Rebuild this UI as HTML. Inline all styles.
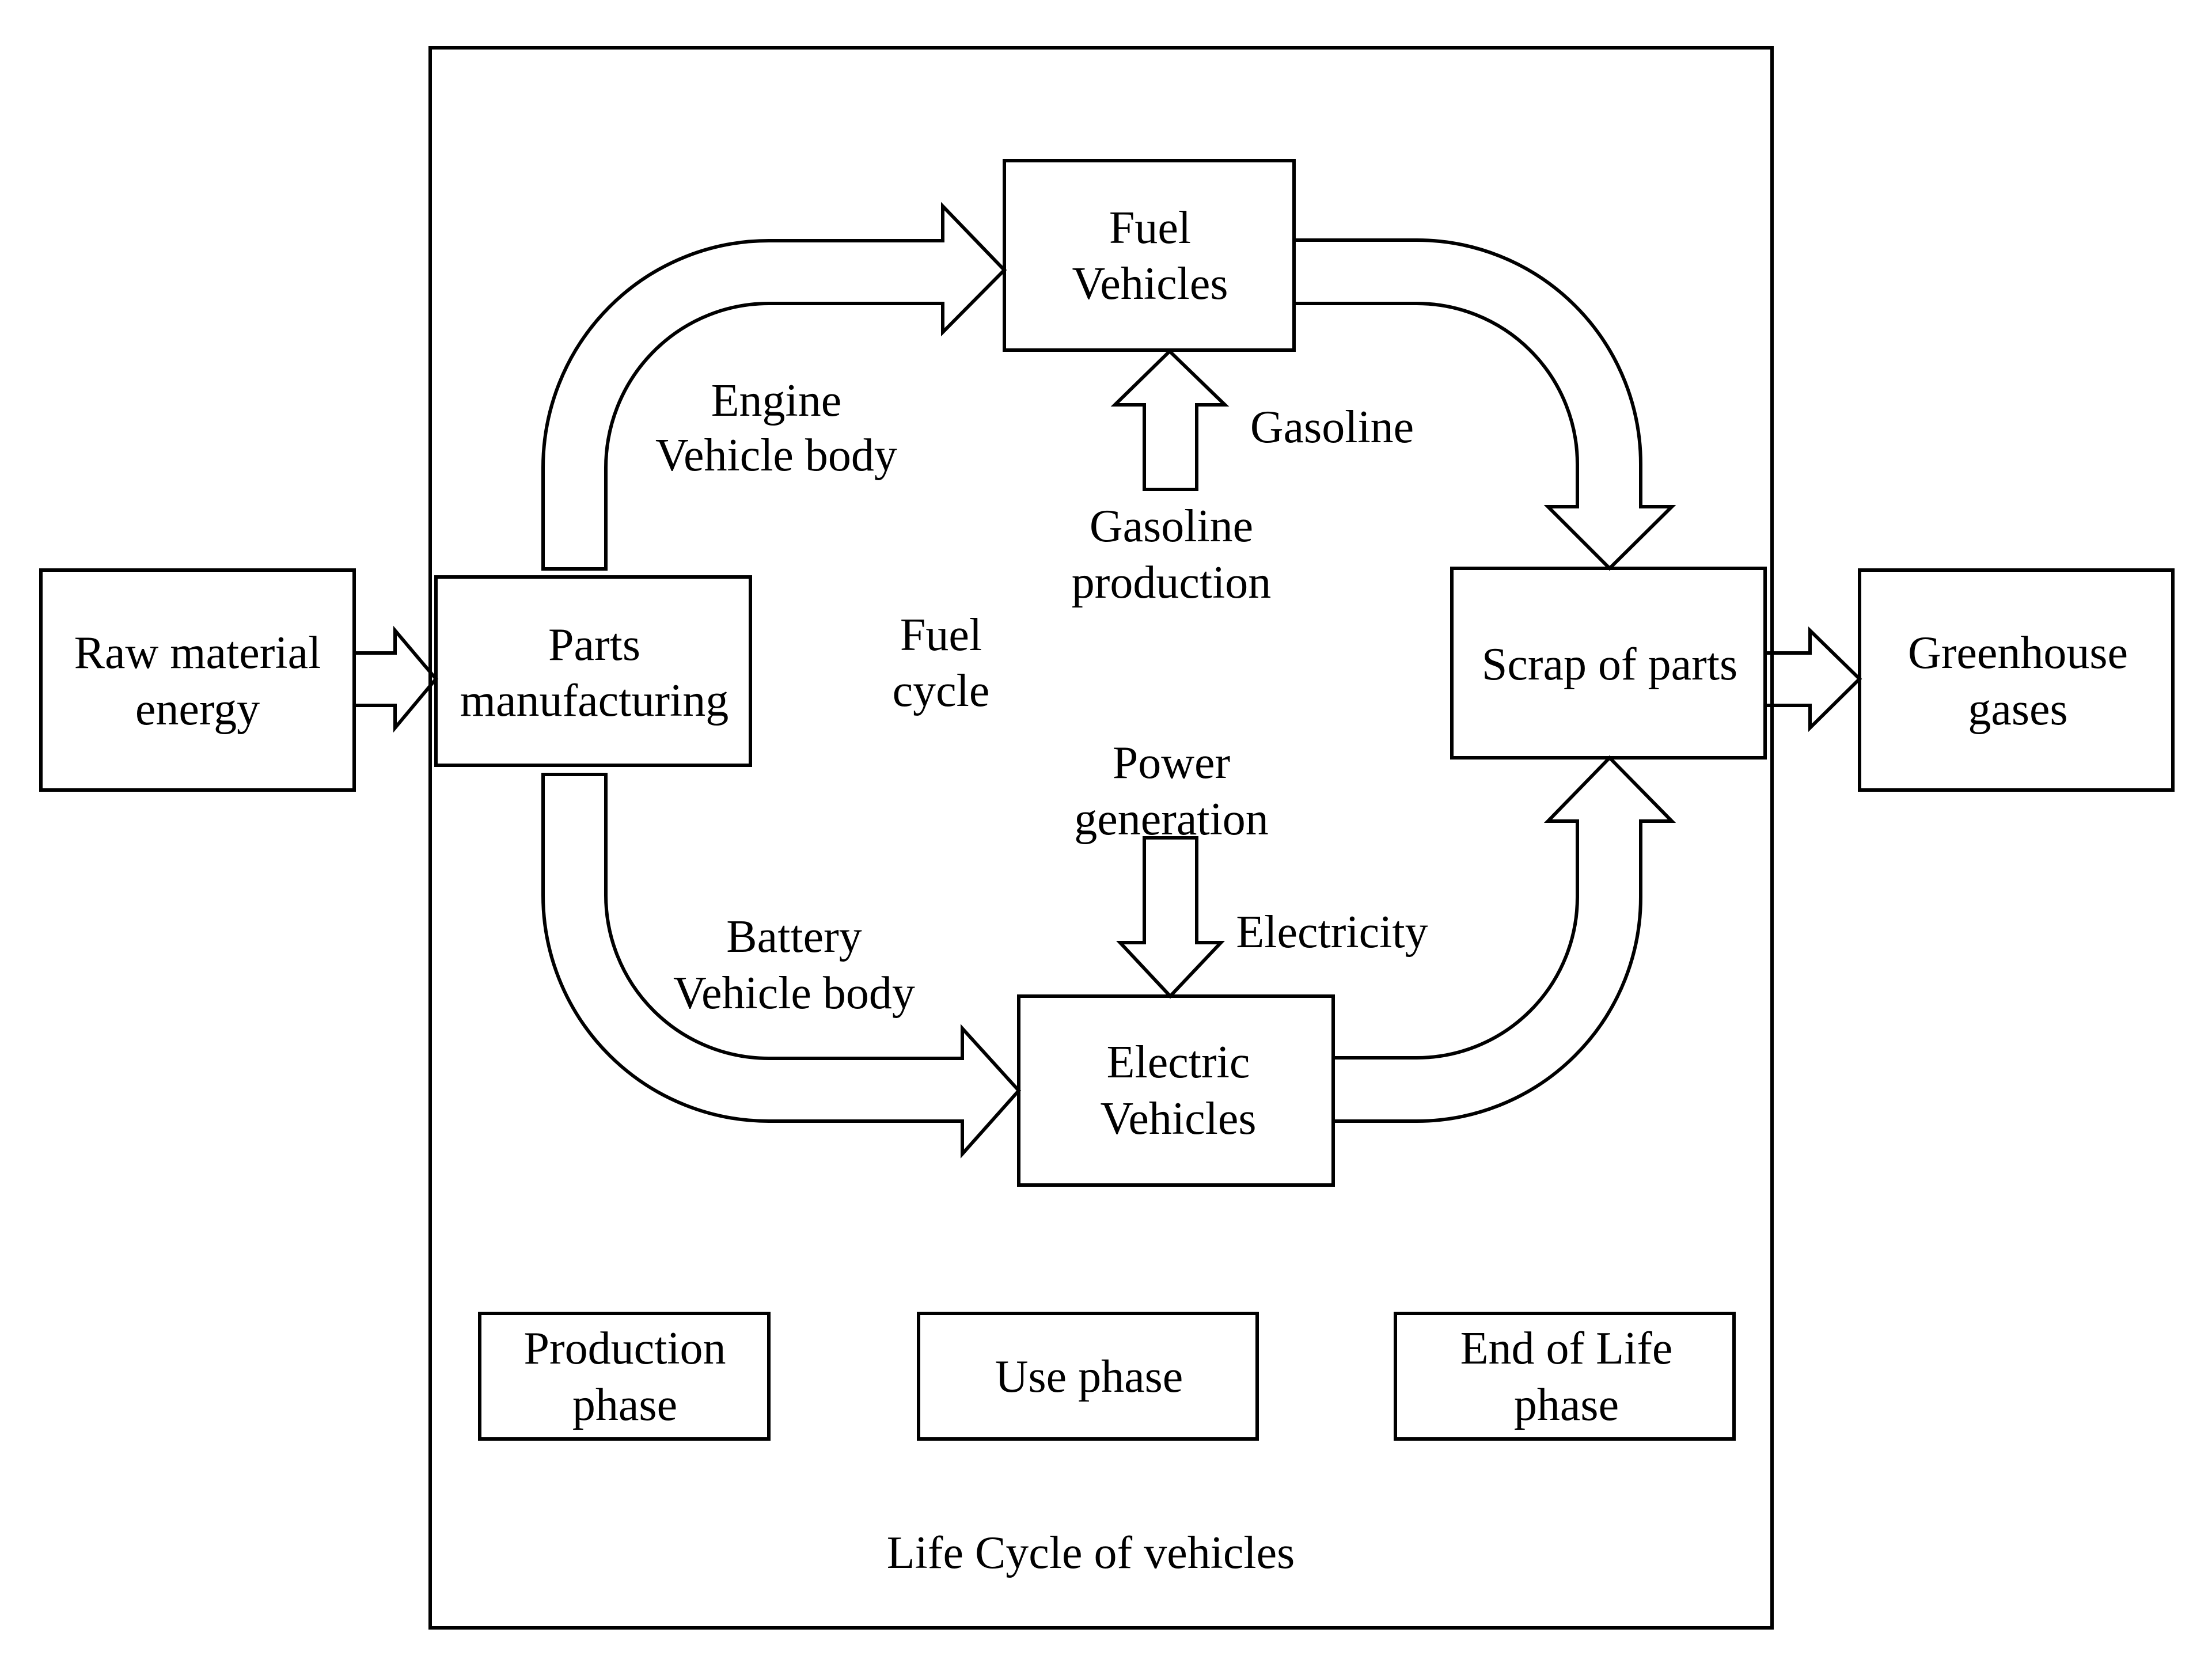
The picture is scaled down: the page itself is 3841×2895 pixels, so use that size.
<!DOCTYPE html>
<html><head><meta charset="utf-8"><style>html,body{margin:0;padding:0;background:#fff}svg{display:block}</style></head><body>
<svg width="3841" height="2895" viewBox="0 0 3841 2895" xmlns="http://www.w3.org/2000/svg">
<g fill="none" stroke="#000" stroke-width="6" stroke-linejoin="miter">
<rect x="747" y="83" width="2330" height="2744"/>
<rect x="71" y="990" width="544" height="382"/>
<rect x="757" y="1002" width="546" height="327"/>
<rect x="1744" y="279" width="503" height="329"/>
<rect x="2521" y="987" width="544" height="329"/>
<rect x="3229" y="990" width="544" height="382"/>
<rect x="1769" y="1730" width="546" height="328"/>
<rect x="833" y="2281" width="502" height="218"/>
<rect x="1595" y="2281" width="588" height="218"/>
<rect x="2423" y="2281" width="588" height="218"/>
<path d="M615,1134 H686 V1095 L757,1179 L686,1264 V1225 H615"/>
<path d="M3065,1134 H3143 V1095 L3229,1179 L3143,1264 V1225 H3065"/>
<path d="M943,988 V812 A392,394 0 0 1 1335,418 H1637 V358 L1744,469 L1637,577 V527 H1335 A283,285 0 0 0 1052,812 V988 Z"/>
<path d="M943,1345 V1555 A392,392 0 0 0 1335,1947 H1671 V2004 L1769,1894 L1671,1786 V1838 H1335 A283,283 0 0 1 1052,1555 V1345 Z"/>
<path d="M2247,417 H2460 A389,389 0 0 1 2849,806 V880 H2903 L2795,987 L2688,880 H2739 V806 A279,279 0 0 0 2460,527 H2247"/>
<path d="M2315,1947 H2460 A389,389 0 0 0 2849,1558 V1426 H2903 L2795,1316 L2688,1426 H2739 V1558 A279,279 0 0 1 2460,1837 H2315"/>
<path d="M1987,850 V703 H1936 L2031,610 L2127,703 H2078 V850 Z"/>
<path d="M1987,1455 V1637 H1945 L2032,1730 L2120,1637 H2078 V1455 Z"/>
</g>
<g font-family="'Liberation Serif', serif" font-size="80" text-anchor="middle" dominant-baseline="central" fill="#000">
<text x="1997" y="396">Fuel</text><text x="1997" y="493">Vehicles</text>
<text x="343" y="1134">Raw material</text><text x="343" y="1232">energy</text>
<text x="1032" y="1120">Parts</text><text x="1032" y="1217">manufacturing</text>
<text x="1348" y="696">Engine</text><text x="1348" y="791">Vehicle body</text>
<text x="2313" y="742">Gasoline</text>
<text x="2034" y="914">Gasoline</text><text x="2034" y="1012">production</text>
<text x="1634" y="1103">Fuel</text><text x="1634" y="1200">cycle</text>
<text x="2795" y="1154">Scrap of parts</text>
<text x="3504" y="1134">Greenhouse</text><text x="3504" y="1232">gases</text>
<text x="2034" y="1325">Power</text><text x="2034" y="1423">generation</text>
<text x="2313" y="1619">Electricity</text>
<text x="1379" y="1627">Battery</text><text x="1379" y="1725">Vehicle body</text>
<text x="2046" y="1845">Electric</text><text x="2046" y="1943">Vehicles</text>
<text x="1085" y="2342">Production</text><text x="1085" y="2440">phase</text>
<text x="1891" y="2391">Use phase</text>
<text x="2720" y="2342">End of Life</text><text x="2720" y="2440">phase</text>
<text x="1894" y="2697">Life Cycle of vehicles</text>
</g>
</svg>
</body></html>
